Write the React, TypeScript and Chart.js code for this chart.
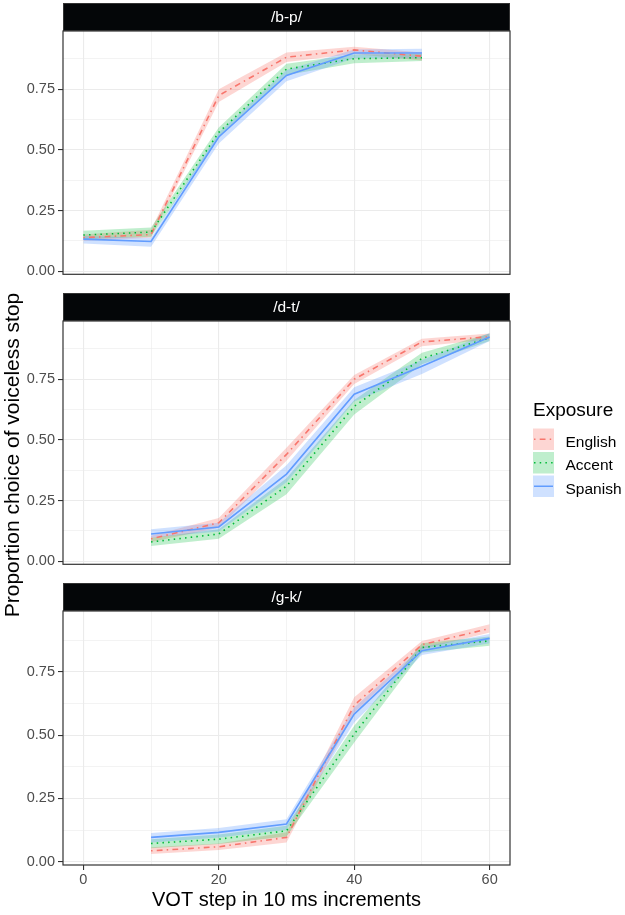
import React, { useEffect, useRef } from 'react';
import { Chart, registerables } from 'chart.js';

Chart.register(...registerables);

const FONT = '"Liberation Sans", Arial, Helvetica, sans-serif';
Chart.defaults.font.family = FONT;

// ---- categories / ticks ----
const exposures = ['English', 'Accent', 'Spanish'];
const contrasts = ['/b-p/', '/d-t/', '/g-k/'];
const xTickValues = [0, 10, 20, 30, 40, 50, 60];
const xTickLabels = ['0', '', '20', '', '40', '', '60'];
const yTickValues = [0, 0.125, 0.25, 0.375, 0.5, 0.625, 0.75, 0.875];
const yTickLabels = ['0.00', '', '0.25', '', '0.50', '', '0.75', ''];
const xTitle = 'VOT step in 10 ms increments';
const yTitle = 'Proportion choice of voiceless stop';
const legendTitle = 'Exposure';

// ---- /b-p/ ----
const bpSteps = [0, 10, 20, 30, 40, 50];
const bpEnglish = [0.138, 0.151, 0.724, 0.882, 0.912, 0.886];
const bpEnglishLo = [0.125, 0.138, 0.697, 0.862, 0.895, 0.868];
const bpEnglishHi = [0.151, 0.171, 0.750, 0.901, 0.925, 0.901];
const bpAccent = [0.149, 0.161, 0.572, 0.833, 0.876, 0.880];
const bpAccentLo = [0.132, 0.142, 0.553, 0.809, 0.857, 0.866];
const bpAccentHi = [0.167, 0.180, 0.592, 0.855, 0.893, 0.895];
const bpSpanish = [0.132, 0.122, 0.553, 0.807, 0.899, 0.899];
const bpSpanishLo = [0.114, 0.101, 0.526, 0.783, 0.878, 0.878];
const bpSpanishHi = [0.145, 0.138, 0.572, 0.829, 0.914, 0.917];

// ---- /d-t/ ----
const dtSteps = [10, 20, 30, 40, 50, 60];
const dtEnglish = [0.092, 0.158, 0.440, 0.750, 0.904, 0.925];
const dtEnglishLo = [0.079, 0.138, 0.414, 0.730, 0.886, 0.914];
const dtEnglishHi = [0.105, 0.178, 0.467, 0.767, 0.917, 0.938];
const dtAccent = [0.079, 0.112, 0.309, 0.638, 0.836, 0.921];
const dtAccentLo = [0.062, 0.092, 0.276, 0.605, 0.812, 0.908];
const dtAccentHi = [0.096, 0.132, 0.342, 0.664, 0.859, 0.938];
const dtSpanish = [0.112, 0.141, 0.359, 0.688, 0.803, 0.924];
const dtSpanishLo = [0.096, 0.122, 0.325, 0.658, 0.772, 0.908];
const dtSpanishHi = [0.132, 0.158, 0.395, 0.717, 0.829, 0.941];

// ---- /g-k/ ----
const gkSteps = [10, 20, 30, 40, 50, 60];
const gkEnglish = [0.043, 0.059, 0.096, 0.618, 0.857, 0.921];
const gkEnglishLo = [0.030, 0.046, 0.076, 0.589, 0.839, 0.905];
const gkEnglishHi = [0.057, 0.072, 0.116, 0.649, 0.872, 0.938];
const gkAccent = [0.072, 0.089, 0.122, 0.504, 0.846, 0.872];
const gkAccentLo = [0.053, 0.070, 0.100, 0.471, 0.826, 0.853];
const gkAccentHi = [0.089, 0.107, 0.142, 0.537, 0.863, 0.889];
const gkSpanish = [0.096, 0.116, 0.149, 0.583, 0.833, 0.882];
const gkSpanishLo = [0.076, 0.096, 0.126, 0.550, 0.816, 0.863];
const gkSpanishHi = [0.113, 0.133, 0.168, 0.609, 0.849, 0.899];

// ---- styles ----
const lineColor: Record<string, string> = { English: '#F8766D', Accent: '#00BA38', Spanish: '#619CFF' };
const ribbonColor: Record<string, string> = {
  English: 'rgba(248,118,109,0.3)',
  Accent: 'rgba(0,186,56,0.25)',
  Spanish: 'rgba(97,156,255,0.3)',
};
const lineDash: Record<string, number[]> = { English: [1.5, 4.2, 5.8, 4.2], Accent: [1.5, 4.2], Spanish: [] };

type Series = { name: string; mean: number[]; lo: number[]; hi: number[] };

const panels = [
  {
    title: contrasts[0], steps: bpSteps, series: [
      { name: exposures[0], mean: bpEnglish, lo: bpEnglishLo, hi: bpEnglishHi },
      { name: exposures[1], mean: bpAccent, lo: bpAccentLo, hi: bpAccentHi },
      { name: exposures[2], mean: bpSpanish, lo: bpSpanishLo, hi: bpSpanishHi },
    ],
  },
  {
    title: contrasts[1], steps: dtSteps, series: [
      { name: exposures[0], mean: dtEnglish, lo: dtEnglishLo, hi: dtEnglishHi },
      { name: exposures[1], mean: dtAccent, lo: dtAccentLo, hi: dtAccentHi },
      { name: exposures[2], mean: dtSpanish, lo: dtSpanishLo, hi: dtSpanishHi },
    ],
  },
  {
    title: contrasts[2], steps: gkSteps, series: [
      { name: exposures[0], mean: gkEnglish, lo: gkEnglishLo, hi: gkEnglishHi },
      { name: exposures[1], mean: gkAccent, lo: gkAccentLo, hi: gkAccentHi },
      { name: exposures[2], mean: gkSpanish, lo: gkSpanishLo, hi: gkSpanishHi },
    ],
  },
];

const facetPlugin = {
  id: 'facet',
  beforeDraw(chart: any, _args: any, opts: any) {
    const { ctx, chartArea: a } = chart;
    const h = 28;
    ctx.save();
    ctx.fillStyle = '#040608';
    ctx.fillRect(a.left, a.top - h, a.right - a.left, h);
    ctx.strokeStyle = '#333333';
    ctx.lineWidth = 1;
    ctx.strokeRect(a.left + 0.5, a.top - h + 0.5, a.right - a.left - 1, h - 1);
    ctx.fillStyle = '#FFFFFF';
    ctx.font = `15.5px ${FONT}`;
    ctx.textAlign = 'center';
    ctx.textBaseline = 'middle';
    ctx.fillText(opts.title, (a.left + a.right) / 2, a.top - h / 2 + 1);
    ctx.restore();
  },
  afterDatasetsDraw(chart: any) {
    const { ctx, chartArea: a } = chart;
    ctx.save();
    ctx.strokeStyle = '#333333';
    ctx.lineWidth = 1.2;
    ctx.strokeRect(a.left, a.top, a.right - a.left, a.bottom - a.top);
    ctx.restore();
  },
};

function buildDatasets(steps: number[], series: Series[]) {
  const ordered = [...series].reverse(); // Spanish drawn on top
  const lines = ordered.map((s) => ({
    label: s.name,
    data: steps.map((x, i) => ({ x, y: s.mean[i] })),
    borderColor: lineColor[s.name],
    borderWidth: 1.6,
    borderDash: lineDash[s.name],
    pointRadius: 0,
    fill: false,
    tension: 0,
  }));
  const ribbons: any[] = [];
  ordered.forEach((s) => {
    ribbons.push({
      label: s.name + ' hi',
      data: steps.map((x, i) => ({ x, y: s.hi[i] })),
      borderWidth: 0,
      borderColor: 'rgba(0,0,0,0)',
      backgroundColor: ribbonColor[s.name],
      pointRadius: 0,
      fill: '+1',
      tension: 0,
    });
    ribbons.push({
      label: s.name + ' lo',
      data: steps.map((x, i) => ({ x, y: s.lo[i] })),
      borderWidth: 0,
      borderColor: 'rgba(0,0,0,0)',
      pointRadius: 0,
      fill: false,
      tension: 0,
    });
  });
  return [...lines, ...ribbons];
}

const isMajorX = (v: number) => v % 20 === 0;
const isMajorY = (v: number) => Math.abs((v / 0.25) - Math.round(v / 0.25)) < 1e-6;

function Panel({ top, height, title, steps, series, showX }: any) {
  const ref = useRef<HTMLCanvasElement>(null);
  useEffect(() => {
    if (!ref.current) return;
    const chart = new Chart(ref.current, {
      type: 'line',
      data: { datasets: buildDatasets(steps, series) as any },
      plugins: [facetPlugin as any],
      options: {
        animation: false,
        responsive: false,
        events: [],
        layout: { padding: { top: 31, right: 2, bottom: showX ? 3 : 1, left: 0 } },
        plugins: {
          legend: { display: false },
          tooltip: { enabled: false },
          filler: { drawTime: 'beforeDatasetsDraw', propagate: false },
          facet: { title },
        } as any,
        scales: {
          x: {
            type: 'linear',
            min: -3,
            max: 63,
            afterBuildTicks: (s: any) => { s.ticks = xTickValues.map((v) => ({ value: v })); },
            afterFit: (s: any) => { s.height = showX ? 47 : 0; },
            border: { display: false },
            grid: {
              color: '#EBEBEB',
              lineWidth: (c: any) => (c.tick && isMajorX(c.tick.value) ? 1.1 : 0.6),
              drawTicks: showX,
              tickLength: 5,
              tickWidth: 1.1,
              tickColor: (c: any) => (c.tick && isMajorX(c.tick.value) ? '#333333' : 'rgba(0,0,0,0)'),
            },
            ticks: {
              display: showX,
              autoSkip: false,
              maxRotation: 0,
              padding: 1,
              color: '#4D4D4D',
              font: { size: 14.5 },
              callback: (_v: any, i: number) => xTickLabels[i],
            },
            title: {
              display: showX,
              text: xTitle,
              color: '#000000',
              font: { size: 20 },
              padding: { top: 0, bottom: 0 },
            },
          },
          y: {
            type: 'linear',
            min: -0.013,
            max: 0.99,
            afterBuildTicks: (s: any) => { s.ticks = yTickValues.map((v) => ({ value: v })); },
            afterFit: (s: any) => { s.width = 63; },
            border: { display: false },
            grid: {
              color: '#EBEBEB',
              lineWidth: (c: any) => (c.tick && isMajorY(c.tick.value) ? 1.1 : 0.6),
              drawTicks: true,
              tickLength: 5,
              tickWidth: 1.1,
              tickColor: (c: any) => (c.tick && isMajorY(c.tick.value) ? '#333333' : 'rgba(0,0,0,0)'),
            },
            ticks: {
              autoSkip: false,
              padding: 3,
              color: '#4D4D4D',
              font: { size: 14.5 },
              callback: (_v: any, i: number) => yTickLabels[i],
            },
          },
        } as any,
      },
    });
    return () => chart.destroy();
  }, []);
  return (
    <div style={{ position: 'absolute', left: 0, top, width: 512, height }}>
      <canvas ref={ref} width={512} height={height} style={{ width: 512, height, display: 'block' }} />
    </div>
  );
}

const legendKeyTop = [428.5, 452, 475.5];
const legendBaseline = [446.5, 470, 493.5];

export default function App() {
  const tops = [0, 290, 580];
  const heights = [286, 286, 335];
  return (
    <div style={{ position: 'absolute', left: 0, top: 0, width: 625, height: 915, background: '#fff', overflow: 'hidden', fontFamily: FONT }}>
      {panels.map((p, i) => (
        <Panel key={p.title} top={tops[i]} height={heights[i]} title={p.title} steps={p.steps} series={p.series} showX={i === 2} />
      ))}
      <svg width={625} height={915} style={{ position: 'absolute', left: 0, top: 0, pointerEvents: 'none' }}>
        <text transform="translate(19,455) rotate(-90)" textAnchor="middle" fontSize={21} fill="#000" fontFamily={FONT}>
          {yTitle}
        </text>
        <text x={533} y={416} fontSize={19} fill="#000" fontFamily={FONT}>{legendTitle}</text>
        {exposures.map((name, i) => (
          <g key={name}>
            <rect x={533} y={legendKeyTop[i]} width={21} height={21.5} fill={ribbonColor[name]} />
            <line
              x1={534}
              x2={553}
              y1={legendKeyTop[i] + 10.75}
              y2={legendKeyTop[i] + 10.75}
              stroke={lineColor[name]}
              strokeWidth={1.5}
              strokeDasharray={lineDash[name].length ? lineDash[name].join(' ') : undefined}
            />
            <text x={565.5} y={legendBaseline[i]} fontSize={15.5} fill="#000" fontFamily={FONT}>{name}</text>
          </g>
        ))}
      </svg>
    </div>
  );
}
